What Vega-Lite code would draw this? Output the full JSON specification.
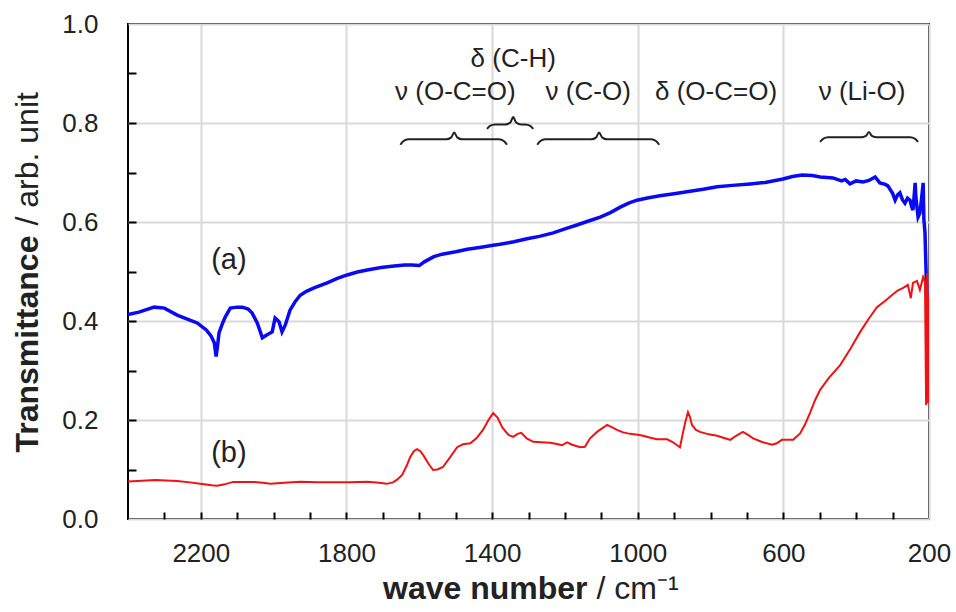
{
  "$schema": "https://vega.github.io/schema/vega-lite/v6.json",
  "width": 801,
  "height": 495,
  "autosize": {"type": "none"},
  "padding": {"left": 128, "top": 24, "right": 27, "bottom": 93},
  "background": "white",
  "config": {
    "view": {"stroke": "black", "strokeWidth": 2},
    "font": "Liberation Sans",
    "axis": {"labelFont": "Liberation Sans", "titleFont": "Liberation Sans", "labelColor": "#222", "titleColor": "#222"}
  },
  "datasets": {
    "a": [
      {"wn": 2400, "T": 0.413}, {"wn": 2370, "T": 0.418}, {"wn": 2328, "T": 0.428}, {"wn": 2300, "T": 0.426},
      {"wn": 2265, "T": 0.412}, {"wn": 2230, "T": 0.402}, {"wn": 2210, "T": 0.396}, {"wn": 2185, "T": 0.382},
      {"wn": 2172, "T": 0.370}, {"wn": 2163, "T": 0.356}, {"wn": 2158, "T": 0.328}, {"wn": 2154, "T": 0.350},
      {"wn": 2150, "T": 0.376}, {"wn": 2140, "T": 0.396}, {"wn": 2133, "T": 0.408}, {"wn": 2119, "T": 0.426},
      {"wn": 2100, "T": 0.428}, {"wn": 2086, "T": 0.428}, {"wn": 2070, "T": 0.424}, {"wn": 2059, "T": 0.416},
      {"wn": 2045, "T": 0.396}, {"wn": 2031, "T": 0.366}, {"wn": 2018, "T": 0.372}, {"wn": 2004, "T": 0.378},
      {"wn": 1996, "T": 0.406}, {"wn": 1990, "T": 0.402}, {"wn": 1985, "T": 0.398}, {"wn": 1977, "T": 0.378},
      {"wn": 1968, "T": 0.392}, {"wn": 1955, "T": 0.422}, {"wn": 1940, "T": 0.440}, {"wn": 1927, "T": 0.452},
      {"wn": 1910, "T": 0.460}, {"wn": 1889, "T": 0.467}, {"wn": 1853, "T": 0.477}, {"wn": 1825, "T": 0.486},
      {"wn": 1798, "T": 0.493}, {"wn": 1770, "T": 0.499}, {"wn": 1743, "T": 0.503}, {"wn": 1705, "T": 0.508},
      {"wn": 1669, "T": 0.511}, {"wn": 1640, "T": 0.513}, {"wn": 1620, "T": 0.513}, {"wn": 1600, "T": 0.512},
      {"wn": 1585, "T": 0.520}, {"wn": 1560, "T": 0.530}, {"wn": 1537, "T": 0.535}, {"wn": 1500, "T": 0.540},
      {"wn": 1468, "T": 0.545}, {"wn": 1430, "T": 0.549}, {"wn": 1397, "T": 0.553}, {"wn": 1378, "T": 0.555},
      {"wn": 1340, "T": 0.560}, {"wn": 1304, "T": 0.566}, {"wn": 1270, "T": 0.571}, {"wn": 1232, "T": 0.578},
      {"wn": 1200, "T": 0.586}, {"wn": 1167, "T": 0.594}, {"wn": 1135, "T": 0.602}, {"wn": 1103, "T": 0.610},
      {"wn": 1075, "T": 0.619}, {"wn": 1048, "T": 0.630}, {"wn": 1025, "T": 0.638}, {"wn": 1002, "T": 0.644},
      {"wn": 970, "T": 0.649}, {"wn": 939, "T": 0.653}, {"wn": 900, "T": 0.657}, {"wn": 865, "T": 0.661},
      {"wn": 820, "T": 0.666}, {"wn": 782, "T": 0.671}, {"wn": 740, "T": 0.674}, {"wn": 691, "T": 0.677},
      {"wn": 650, "T": 0.680}, {"wn": 601, "T": 0.687}, {"wn": 575, "T": 0.692}, {"wn": 549, "T": 0.695},
      {"wn": 520, "T": 0.694}, {"wn": 499, "T": 0.691}, {"wn": 480, "T": 0.690}, {"wn": 464, "T": 0.689},
      {"wn": 440, "T": 0.683}, {"wn": 430, "T": 0.686}, {"wn": 417, "T": 0.677}, {"wn": 400, "T": 0.683},
      {"wn": 381, "T": 0.681}, {"wn": 365, "T": 0.684}, {"wn": 348, "T": 0.691}, {"wn": 335, "T": 0.679},
      {"wn": 320, "T": 0.676}, {"wn": 313, "T": 0.673}, {"wn": 300, "T": 0.658}, {"wn": 293, "T": 0.644},
      {"wn": 286, "T": 0.655}, {"wn": 280, "T": 0.659}, {"wn": 273, "T": 0.645}, {"wn": 266, "T": 0.638},
      {"wn": 259, "T": 0.648}, {"wn": 252, "T": 0.644}, {"wn": 248, "T": 0.632}, {"wn": 244, "T": 0.624},
      {"wn": 240, "T": 0.660}, {"wn": 238, "T": 0.679}, {"wn": 236, "T": 0.650}, {"wn": 233, "T": 0.630},
      {"wn": 230, "T": 0.610}, {"wn": 225, "T": 0.618}, {"wn": 220, "T": 0.650}, {"wn": 216, "T": 0.679},
      {"wn": 214, "T": 0.604}, {"wn": 211, "T": 0.578}, {"wn": 208, "T": 0.500}, {"wn": 205, "T": 0.400},
      {"wn": 202, "T": 0.300}
    ],
    "b": [
      {"wn": 2400, "T": 0.076}, {"wn": 2325, "T": 0.079}, {"wn": 2265, "T": 0.077}, {"wn": 2230, "T": 0.074},
      {"wn": 2202, "T": 0.071}, {"wn": 2170, "T": 0.068}, {"wn": 2155, "T": 0.067}, {"wn": 2135, "T": 0.070},
      {"wn": 2111, "T": 0.075}, {"wn": 2056, "T": 0.075}, {"wn": 2030, "T": 0.073}, {"wn": 2009, "T": 0.071},
      {"wn": 1970, "T": 0.073}, {"wn": 1927, "T": 0.075}, {"wn": 1880, "T": 0.074}, {"wn": 1836, "T": 0.074},
      {"wn": 1790, "T": 0.074}, {"wn": 1743, "T": 0.075}, {"wn": 1710, "T": 0.073}, {"wn": 1690, "T": 0.071},
      {"wn": 1672, "T": 0.074}, {"wn": 1660, "T": 0.080}, {"wn": 1647, "T": 0.089}, {"wn": 1635, "T": 0.107},
      {"wn": 1625, "T": 0.125}, {"wn": 1615, "T": 0.137}, {"wn": 1606, "T": 0.141}, {"wn": 1597, "T": 0.137},
      {"wn": 1589, "T": 0.129}, {"wn": 1575, "T": 0.112}, {"wn": 1562, "T": 0.099}, {"wn": 1550, "T": 0.100},
      {"wn": 1535, "T": 0.105}, {"wn": 1515, "T": 0.125}, {"wn": 1496, "T": 0.145}, {"wn": 1480, "T": 0.151},
      {"wn": 1460, "T": 0.153}, {"wn": 1443, "T": 0.163}, {"wn": 1425, "T": 0.180}, {"wn": 1410, "T": 0.200},
      {"wn": 1397, "T": 0.214}, {"wn": 1385, "T": 0.205}, {"wn": 1372, "T": 0.185}, {"wn": 1355, "T": 0.170},
      {"wn": 1342, "T": 0.166}, {"wn": 1330, "T": 0.172}, {"wn": 1320, "T": 0.174}, {"wn": 1305, "T": 0.163},
      {"wn": 1287, "T": 0.156}, {"wn": 1265, "T": 0.155}, {"wn": 1241, "T": 0.154}, {"wn": 1225, "T": 0.152},
      {"wn": 1208, "T": 0.149}, {"wn": 1194, "T": 0.155}, {"wn": 1180, "T": 0.150}, {"wn": 1158, "T": 0.145},
      {"wn": 1145, "T": 0.146}, {"wn": 1131, "T": 0.163}, {"wn": 1110, "T": 0.177}, {"wn": 1084, "T": 0.190},
      {"wn": 1070, "T": 0.185}, {"wn": 1057, "T": 0.180}, {"wn": 1040, "T": 0.175}, {"wn": 1021, "T": 0.172},
      {"wn": 1000, "T": 0.170}, {"wn": 985, "T": 0.168}, {"wn": 965, "T": 0.164}, {"wn": 947, "T": 0.161},
      {"wn": 919, "T": 0.161}, {"wn": 903, "T": 0.155}, {"wn": 884, "T": 0.145}, {"wn": 877, "T": 0.170},
      {"wn": 870, "T": 0.194}, {"wn": 862, "T": 0.216}, {"wn": 856, "T": 0.205}, {"wn": 851, "T": 0.190},
      {"wn": 840, "T": 0.180}, {"wn": 829, "T": 0.176}, {"wn": 805, "T": 0.171}, {"wn": 782, "T": 0.168},
      {"wn": 765, "T": 0.164}, {"wn": 746, "T": 0.160}, {"wn": 730, "T": 0.168}, {"wn": 711, "T": 0.176},
      {"wn": 697, "T": 0.170}, {"wn": 683, "T": 0.163}, {"wn": 660, "T": 0.156}, {"wn": 631, "T": 0.150},
      {"wn": 618, "T": 0.153}, {"wn": 604, "T": 0.160}, {"wn": 590, "T": 0.160}, {"wn": 573, "T": 0.160},
      {"wn": 554, "T": 0.173}, {"wn": 540, "T": 0.192}, {"wn": 527, "T": 0.214}, {"wn": 513, "T": 0.240},
      {"wn": 499, "T": 0.261}, {"wn": 475, "T": 0.285}, {"wn": 444, "T": 0.311}, {"wn": 415, "T": 0.345},
      {"wn": 389, "T": 0.378}, {"wn": 365, "T": 0.405}, {"wn": 343, "T": 0.428}, {"wn": 320, "T": 0.441},
      {"wn": 299, "T": 0.454}, {"wn": 285, "T": 0.462}, {"wn": 271, "T": 0.467}, {"wn": 258, "T": 0.473},
      {"wn": 250, "T": 0.446}, {"wn": 244, "T": 0.477}, {"wn": 233, "T": 0.481}, {"wn": 225, "T": 0.463},
      {"wn": 216, "T": 0.489}, {"wn": 211, "T": 0.480}, {"wn": 208, "T": 0.230}, {"wn": 205, "T": 0.497},
      {"wn": 203, "T": 0.234}, {"wn": 201, "T": 0.450}
    ],
    "braces": [
      {"brace": 1, "wn": 1652, "T": 0.756}, {"brace": 1, "wn": 1644, "T": 0.763}, {"brace": 1, "wn": 1630, "T": 0.767},
      {"brace": 1, "wn": 1526, "T": 0.767}, {"brace": 1, "wn": 1512, "T": 0.771}, {"brace": 1, "wn": 1504, "T": 0.781},
      {"brace": 1, "wn": 1496, "T": 0.771}, {"brace": 1, "wn": 1482, "T": 0.767}, {"brace": 1, "wn": 1381, "T": 0.767},
      {"brace": 1, "wn": 1367, "T": 0.763}, {"brace": 1, "wn": 1359, "T": 0.756},
      {"brace": 2, "wn": 1414, "T": 0.788}, {"brace": 2, "wn": 1406, "T": 0.794}, {"brace": 2, "wn": 1392, "T": 0.797},
      {"brace": 2, "wn": 1364, "T": 0.797}, {"brace": 2, "wn": 1350, "T": 0.801}, {"brace": 2, "wn": 1342, "T": 0.812},
      {"brace": 2, "wn": 1334, "T": 0.801}, {"brace": 2, "wn": 1320, "T": 0.797}, {"brace": 2, "wn": 1309, "T": 0.797},
      {"brace": 2, "wn": 1295, "T": 0.794}, {"brace": 2, "wn": 1287, "T": 0.788},
      {"brace": 3, "wn": 1276, "T": 0.756}, {"brace": 3, "wn": 1268, "T": 0.763}, {"brace": 3, "wn": 1254, "T": 0.767},
      {"brace": 3, "wn": 1128, "T": 0.767}, {"brace": 3, "wn": 1114, "T": 0.771}, {"brace": 3, "wn": 1106, "T": 0.781},
      {"brace": 3, "wn": 1098, "T": 0.771}, {"brace": 3, "wn": 1084, "T": 0.767}, {"brace": 3, "wn": 963, "T": 0.767},
      {"brace": 3, "wn": 949, "T": 0.763}, {"brace": 3, "wn": 941, "T": 0.756},
      {"brace": 4, "wn": 499, "T": 0.762}, {"brace": 4, "wn": 491, "T": 0.768}, {"brace": 4, "wn": 477, "T": 0.771},
      {"brace": 4, "wn": 387, "T": 0.771}, {"brace": 4, "wn": 373, "T": 0.774}, {"brace": 4, "wn": 365, "T": 0.782},
      {"brace": 4, "wn": 357, "T": 0.774}, {"brace": 4, "wn": 343, "T": 0.771}, {"brace": 4, "wn": 252, "T": 0.771},
      {"brace": 4, "wn": 238, "T": 0.768}, {"brace": 4, "wn": 230, "T": 0.762}
    ],
    "notes": [
      {"wn": 1342, "T": 0.929, "label": "δ (C-H)"},
      {"wn": 1501, "T": 0.863, "label": "ν (O-C=O)"},
      {"wn": 1136, "T": 0.863, "label": "ν (C-O)"},
      {"wn": 785, "T": 0.863, "label": "δ (O-C=O)"},
      {"wn": 384, "T": 0.863, "label": "ν (Li-O)"}
    ],
    "tags": [
      {"wn": 2123, "T": 0.523, "label": "(a)"},
      {"wn": 2123, "T": 0.133, "label": "(b)"}
    ]
  },
  "resolve": {"axis": {"x": "independent", "y": "independent"}},
  "layer": [
    {
      "data": {"name": "a"},
      "mark": {"type": "line", "color": "#0a0af2", "strokeWidth": 3.5, "clip": true},
      "encoding": {
        "x": {"field": "wn", "type": "quantitative",
          "scale": {"domain": [200, 2400], "reverse": true, "nice": false, "zero": false},
          "axis": {"orient": "bottom", "values": [2200, 1800, 1400, 1000, 600, 200], "format": "d", "grid": true, "gridColor": "#d9d9d9", "gridWidth": 2,
            "ticks": false, "domain": false, "labelFontSize": 26, "labelPadding": 21, "labelFlush": false,
            "title": "wave number", "titleFontSize": 32, "titleFontWeight": "bold",
            "titleX": 459, "titleY": 79, "titleAlign": "right", "titleBaseline": "alphabetic"}},
        "y": {"field": "T", "type": "quantitative",
          "scale": {"domain": [0, 1], "nice": false, "zero": false},
          "axis": {"orient": "left", "values": [0, 0.2, 0.4, 0.6, 0.8, 1.0], "format": ".1f", "grid": true, "gridColor": "#d9d9d9", "gridWidth": 2,
            "ticks": false, "domain": false, "labelFontSize": 26, "labelPadding": 30, "labelFlush": false,
            "title": "Transmittance", "titleFontSize": 32, "titleFontWeight": "bold", "titleAngle": -90,
            "titleX": -91, "titleY": 428, "titleAlign": "left", "titleBaseline": "alphabetic"}}
      }
    },
    {
      "data": {"name": "b"},
      "mark": {"type": "line", "color": "#f01212", "strokeWidth": 2, "clip": true},
      "encoding": {
        "x": {"field": "wn", "type": "quantitative",
          "scale": {"domain": [200, 2400], "reverse": true, "nice": false, "zero": false},
          "axis": {"orient": "bottom", "values": [2300, 2200, 2100, 2000, 1900, 1800, 1700, 1600, 1500, 1400, 1300, 1200, 1100, 1000, 900, 800, 700, 600, 500, 400, 300],
            "grid": false, "ticks": true, "tickSize": -7, "tickWidth": 2, "tickColor": "black", "labels": false, "domain": false,
            "title": "/ cm⁻¹", "titleFontSize": 32, "titleFontWeight": "normal",
            "titleX": 468, "titleY": 79, "titleAlign": "left", "titleBaseline": "alphabetic"}},
        "y": {"field": "T", "type": "quantitative",
          "scale": {"domain": [0, 1], "nice": false, "zero": false},
          "axis": {"orient": "left", "values": [0.1, 0.2, 0.3, 0.4, 0.5, 0.6, 0.7, 0.8, 0.9],
            "grid": false, "ticks": true, "tickSize": -8, "tickWidth": 2, "tickColor": "black", "labels": false, "domain": false,
            "title": "/ arb. unit", "titleFontSize": 32, "titleFontWeight": "normal", "titleAngle": -90,
            "titleX": -91, "titleY": 201, "titleAlign": "left", "titleBaseline": "alphabetic"}}
      }
    },
    {
      "data": {"name": "braces"},
      "mark": {"type": "line", "color": "#222", "strokeWidth": 2, "interpolate": "monotone"},
      "encoding": {
        "x": {"field": "wn", "type": "quantitative", "axis": null},
        "y": {"field": "T", "type": "quantitative", "axis": null},
        "detail": {"field": "brace", "type": "nominal"}
      }
    },
    {
      "data": {"name": "notes"},
      "mark": {"type": "text", "fontSize": 26, "font": "Liberation Sans", "color": "#222", "align": "center", "baseline": "middle"},
      "encoding": {
        "x": {"field": "wn", "type": "quantitative", "axis": null},
        "y": {"field": "T", "type": "quantitative", "axis": null},
        "text": {"field": "label"}
      }
    },
    {
      "data": {"name": "tags"},
      "mark": {"type": "text", "fontSize": 29, "font": "Liberation Sans", "color": "#222", "align": "center", "baseline": "middle"},
      "encoding": {
        "x": {"field": "wn", "type": "quantitative", "axis": null},
        "y": {"field": "T", "type": "quantitative", "axis": null},
        "text": {"field": "label"}
      }
    }
  ]
}
